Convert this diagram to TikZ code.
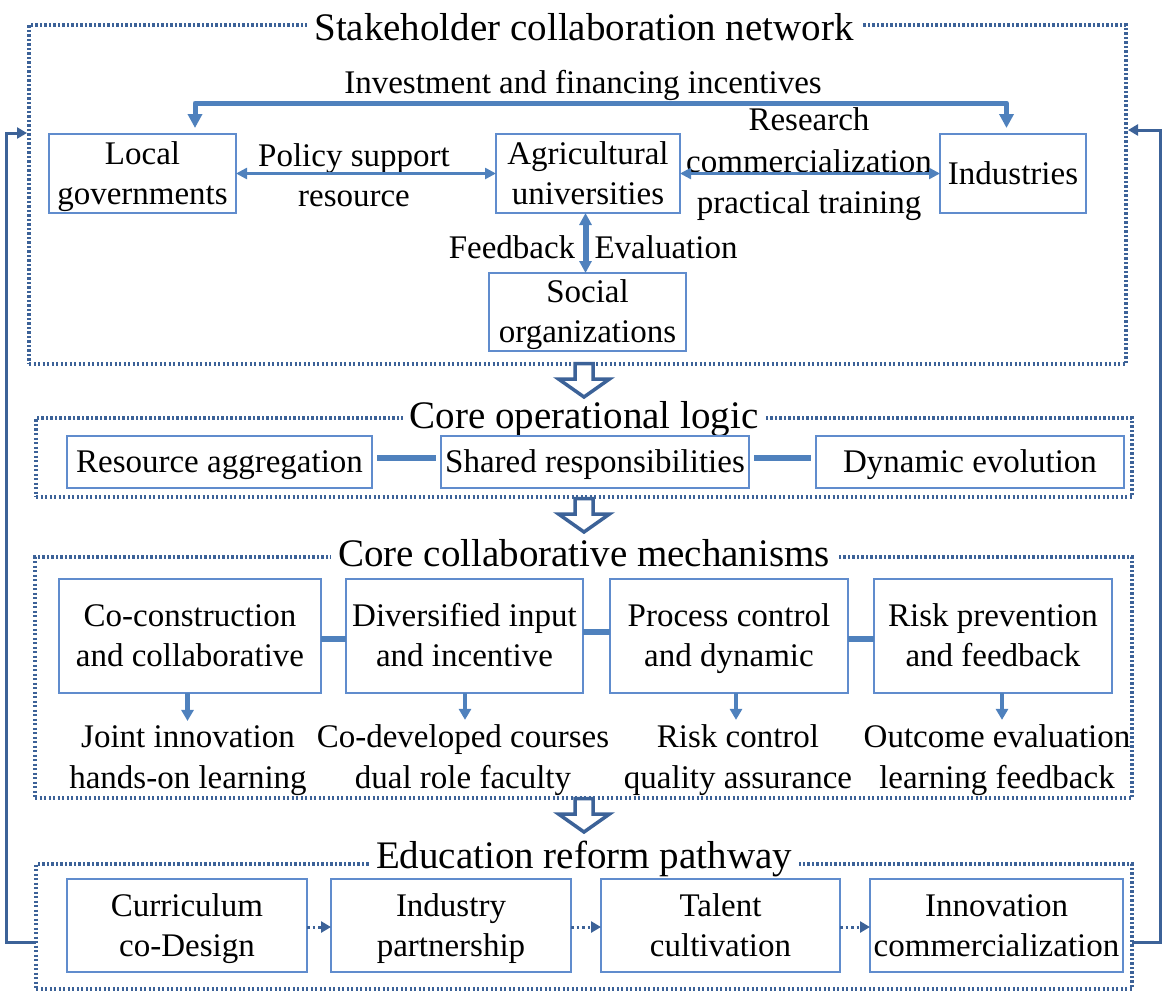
\documentclass[tikz,border=0pt]{standalone}
\usepackage{fontspec}
\setmainfont{Liberation Serif}
\usetikzlibrary{arrows.meta}
\definecolor{boxblue}{RGB}{96,140,205}
\definecolor{linkblue}{RGB}{79,129,189}
\definecolor{darkblue}{RGB}{60,98,152}
\newcommand\mytopstrut{\rule{0pt}{29.5pt}}
\newcommand\mybotstrut{\rule[-8.5pt]{0pt}{8.5pt}}
\begin{document}
\begin{tikzpicture}[x=1pt,y=-1pt,
  box/.style={draw=boxblue, line width=1.3pt, align=center, inner sep=0pt, outer sep=0pt,
    font=\fontsize{33}{40}\selectfont},
  lbl/.style={inner sep=0pt, anchor=base, font=\fontsize{33}{40}\selectfont},
  frame/.style={draw=darkblue, line width=3.2pt, dash pattern=on 2.4pt off 2.1pt,
    inner sep=0pt, outer sep=0pt},
  ftitle/.style={fill=white, inner xsep=7pt, inner ysep=3pt, anchor=base,
    font=\fontsize{39}{44}\selectfont},
  fatarr/.style={draw=linkblue, line width=5pt, line join=round,
    {Triangle[width=14pt,length=14pt]}-{Triangle[width=14pt,length=14pt]}},
  linkarr/.style={draw=linkblue, line width=2.5pt,
    {Triangle[width=11pt,length=11pt]}-{Triangle[width=11pt,length=11pt]}},
  vertarr/.style={draw=linkblue, line width=6pt,
    {Triangle[width=12pt,length=12pt]}-{Triangle[width=12pt,length=12pt]}},
  fatlink/.style={draw=linkblue, line width=6pt},
  downarr/.style={draw=linkblue, line width=4.5pt, -{Triangle[width=12pt,length=11pt]}},
  dotarr/.style={draw=darkblue, line width=3pt, dash pattern=on 2.5pt off 3pt,
    -{Triangle[width=11pt,length=10pt]}},
  fback/.style={draw=darkblue, line width=3pt, line join=miter,
    -{Triangle[width=11pt,length=10pt]}},
  blockarr/.pic={\draw[darkblue, line width=3.5pt, fill=white, line join=miter]
    (-9,1.5) -- (-9,17) -- (-25.5,17) -- (0,35) -- (25.5,17) -- (9,17) -- (9,1.5) -- cycle;}
]
\useasboundingbox (0,0) rectangle (1166,996);

% ---------- frames ----------
\node[frame, minimum width=1097pt, minimum height=339pt] (f1) at (577.5,194.5) {};
\node[frame, minimum width=1096pt, minimum height=79pt]  (f2) at (584,457.5) {};
\node[frame, minimum width=1097pt, minimum height=241pt] (f3) at (583.5,677.5) {};
\node[frame, minimum width=1096pt, minimum height=125pt] (f4) at (584,926.5) {};

\node[ftitle] (t1) at (584,40)  {Stakeholder collaboration network};
\node[ftitle] (t2) at (584,428) {Core operational logic};
\node[ftitle] (t3) at (584,566) {Core collaborative mechanisms};
\node[ftitle] (t4) at (584,868) {Education reform pathway};

% ---------- section 1 ----------
\node[box, minimum width=187pt, minimum height=79pt] (lg)  at (142.5,173.5) {\mytopstrut Local\\governments\mybotstrut};
\node[box, minimum width=184pt, minimum height=79pt] (au)  at (588,173.5)   {\mytopstrut Agricultural\\universities\mybotstrut};
\node[box, minimum width=146pt, minimum height=79pt] (ind) at (1013,173.5)  {\mytopstrut Industries\mybotstrut};
\node[box, minimum width=197pt, minimum height=78pt] (so)  at (587.5,312)   {\mytopstrut Social\\organizations\mybotstrut};

\node[lbl] (inv)  at (583,93)  {Investment and financing incentives};
\node[lbl] (pol1) at (354,166) {Policy support};
\node[lbl] (pol2) at (354,206) {resource};
\node[lbl] (rc1)  at (809,130) {Research};
\node[lbl] (rc2)  at (809,172) {commercialization};
\node[lbl] (rc3)  at (809,213) {practical training};
\node[lbl] (fbk)  at (512,258) {Feedback};
\node[lbl] (evl)  at (666,258) {Evaluation};

\draw[fatarr] ([xshift=52.5pt,yshift=6pt]lg.north) -- ++(0,-25) -| ([xshift=-6.5pt,yshift=6pt]ind.north);
\draw[linkarr] (lg.east) -- (au.west);
\draw[linkarr] (au.east) -- (ind.west);
\draw[vertarr] ([xshift=-2.5pt]au.south) -- ([xshift=-2.5pt]au.south |- so.north);

% ---------- block arrows ----------
\pic at (584,362) {blockarr};
\pic at (584,497) {blockarr};
\pic at (584,797) {blockarr};

% ---------- section 2 ----------
\node[box, minimum width=305pt, minimum height=52pt] (ra) at (219.5,462) {\mytopstrut Resource aggregation\mybotstrut};
\node[box, minimum width=308pt, minimum height=52pt] (sr) at (595,462)   {\mytopstrut Shared responsibilities\mybotstrut};
\node[box, minimum width=308pt, minimum height=52pt] (de) at (970,462)   {\mytopstrut Dynamic evolution\mybotstrut};
\draw[fatlink] ([xshift=5pt,yshift=4pt]ra.east) -- ([xshift=-5pt,yshift=4pt]sr.west);
\draw[fatlink] ([xshift=5pt,yshift=4pt]sr.east) -- ([xshift=-5pt,yshift=4pt]de.west);

% ---------- section 3 ----------
\node[box, minimum width=262pt, minimum height=114pt] (cc) at (190,636)   {\mytopstrut Co-construction\\and collaborative\mybotstrut};
\node[box, minimum width=237pt, minimum height=114pt] (di) at (464.5,636) {\mytopstrut Diversified input\\and incentive\mybotstrut};
\node[box, minimum width=238pt, minimum height=114pt] (pc) at (729,636)   {\mytopstrut Process control\\and dynamic\mybotstrut};
\node[box, minimum width=238pt, minimum height=114pt] (rp) at (993,636)   {\mytopstrut Risk prevention\\and feedback\mybotstrut};
\draw[fatlink] ([yshift=-3pt]cc.east) -- ([yshift=-3pt]di.west);
\draw[fatlink] ([yshift=4pt]di.east) -- ([yshift=4pt]pc.west);
\draw[fatlink] ([yshift=-3pt]pc.east) -- ([yshift=-3pt]rp.west);

\node[lbl] (ji1) at (188,747) {Joint innovation};
\node[lbl] (ji2) at (188,788) {hands-on learning};
\node[lbl] (cd1) at (463,747) {Co-developed courses};
\node[lbl] (cd2) at (463,788) {dual role faculty};
\node[lbl] (rk1) at (738,747) {Risk control};
\node[lbl] (rk2) at (738,788) {quality assurance};
\node[lbl] (oe1) at (997,747) {Outcome evaluation};
\node[lbl] (oe2) at (997,788) {learning feedback};

\draw[downarr] ([xshift=-0.5pt]ji1.north |- cc.south) -- ([xshift=-0.5pt,yshift=4pt]ji1.north);
\draw[downarr] ([xshift=2pt]cd1.north |- di.south) -- ([xshift=2pt,yshift=4pt]cd1.north);
\draw[downarr] ([xshift=-2pt]rk1.north |- pc.south) -- ([xshift=-2pt,yshift=4pt]rk1.north);
\draw[downarr] ([xshift=5pt]oe1.north |- rp.south) -- ([xshift=5pt,yshift=4pt]oe1.north);

% ---------- section 4 ----------
\node[box, minimum width=240pt, minimum height=93pt] (cu) at (187,925.5)   {\mytopstrut Curriculum\\co-Design\mybotstrut};
\node[box, minimum width=240pt, minimum height=93pt] (ip) at (451,925.5)   {\mytopstrut Industry\\partnership\mybotstrut};
\node[box, minimum width=239pt, minimum height=93pt] (tc) at (720.5,925.5) {\mytopstrut Talent\\cultivation\mybotstrut};
\node[box, minimum width=253pt, minimum height=93pt] (ic) at (996.5,925.5) {\mytopstrut Innovation\\commercialization\mybotstrut};
\draw[dotarr] ([yshift=-1.5pt]cu.east) -- ([yshift=-1.5pt]ip.west);
\draw[dotarr] ([yshift=-1.5pt]ip.east) -- ([yshift=-1.5pt]tc.west);
\draw[dotarr] ([yshift=-1.5pt]tc.east) -- ([yshift=-1.5pt]ic.west);

% ---------- feedback loops ----------
\coordinate (fl1) at (6,942);
\coordinate (fl2) at (6,133);
\coordinate (fr1) at (1160,942);
\coordinate (fr2) at (1160,130);
\draw[fback] ([yshift=-15.5pt]f4.west) -- (fl1) -- (fl2) -- ([xshift=-2pt]fl2 -| f1.west);
\draw[fback] ([yshift=-15.5pt]f4.east) -- (fr1) -- (fr2) -- ([xshift=2pt]fr2 -| f1.east);
\end{tikzpicture}
\end{document}
